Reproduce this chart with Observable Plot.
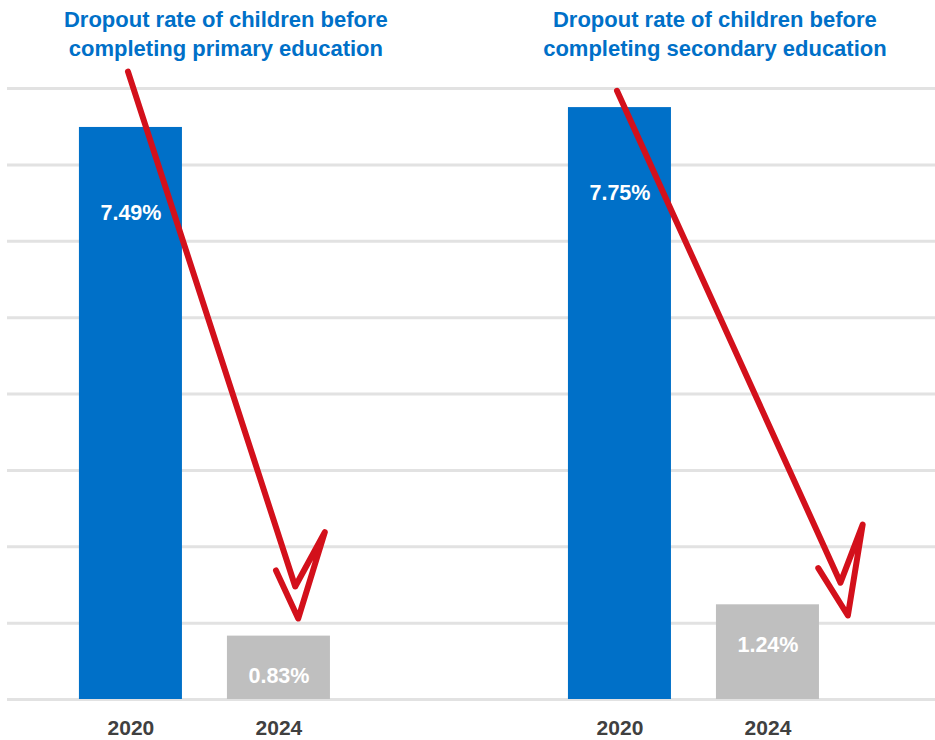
<!DOCTYPE html>
<html><head><meta charset="utf-8">
<script src="https://cdn.jsdelivr.net/npm/d3@7"></script>
<script src="https://cdn.jsdelivr.net/npm/@observablehq/plot@0.6"></script>
<style>
html,body{margin:0;padding:0;background:#fff;overflow:hidden}
body{width:935px;height:740px;font-family:Arial,"Liberation Sans",sans-serif}
#titles{position:relative;height:63px;width:935px}
.t{position:absolute;top:5px;transform:translateX(-50%);white-space:nowrap;text-align:center;color:#0070C8;font-weight:bold;font-size:22px;line-height:29px}
#chart svg{display:block}
</style></head><body>
<div id="titles"></div><div id="chart"></div>
<script>
// ---- data ----
const panels = ["primary", "secondary"];
const titleLines = [
  ["Dropout rate of children before", "completing primary education"],
  ["Dropout rate of children before", "completing secondary education"]
];
const years = ["2020", "2024"];
const primaryRates = [7.49, 0.83];
const secondaryRates = [7.75, 1.24];
const gridValues = [0, 1, 2, 3, 4, 5, 6, 7, 8];
// hand-drawn arrows, in data units (x: steps from the panel's 2020 bar, y: %)
const primaryArrowX = [-0.02, 1.11, 1.31, 1.13, 0.98];
const primaryArrowY = [8.22, 1.48, 2.19, 1.06, 1.69];
const secondaryArrowX = [-0.02, 1.49, 1.64, 1.54, 1.34];
const secondaryArrowY = [7.97, 1.53, 2.29, 1.10, 1.72];

// ---- layout constants ----
const panelGap = 3.304;     // distance between panels, in year steps
const halfBar = 0.348;      // half bar width, in year steps
const titleOffset = 0.645;  // title centre relative to 2020 bar
const blue = "#0070C8", gray = "#BFBFBF", red = "#D3101B";

const rates = [primaryRates, secondaryRates];
const bars = [];
panels.forEach((p, pi) => years.forEach((y, yi) => bars.push({
  panel: p, year: y, value: rates[pi][yi], pos: pi * panelGap + yi
})));
const arrowXs = [primaryArrowX, secondaryArrowX], arrowYs = [primaryArrowY, secondaryArrowY];
const arrows = [];
panels.forEach((p, pi) => arrowXs[pi].forEach((x, i) => arrows.push({
  panel: p, x: pi * panelGap + x, y: arrowYs[pi][i]
})));

const font = "Arial, 'Liberation Sans', sans-serif";
const chart = Plot.plot({
  width: 935, height: 677,
  marginTop: 25, marginBottom: 41, marginLeft: 7, marginRight: 0,
  style: {fontFamily: font, background: "#fff"},
  x: {domain: [-0.834, 5.436], axis: null},
  y: {domain: [0, 8], axis: null},
  marks: [
    Plot.ruleY(gridValues, {stroke: "#E2E2E2", strokeWidth: 3}),
    Plot.rectY(bars, {x1: d => d.pos - halfBar, x2: d => d.pos + halfBar, y: "value",
      fill: d => d.year === "2020" ? blue : gray}),
    Plot.text(bars.filter(d => d.year === "2020"), {x: "pos", y: "value", dy: 86,
      text: d => d.value.toFixed(2) + "%", fill: "#fff", fontSize: 21.5, fontWeight: "bold"}),
    Plot.text(bars.filter(d => d.year === "2024"), {x: "pos", y: "value", dy: 40,
      text: d => d.value.toFixed(2) + "%", fill: "#fff", fontSize: 21.5, fontWeight: "bold"}),
    Plot.text(bars, {x: "pos", y: 0, dy: 29, text: "year", fill: "#404040",
      fontSize: 21, fontWeight: "bold"}),
    Plot.line(arrows, {x: "x", y: "y", z: "panel", stroke: red, strokeWidth: 6,
      strokeLinejoin: "round", strokeLinecap: "round"})
  ]
});
document.getElementById("chart").appendChild(chart);

const xs = chart.scale("x");
const titles = document.getElementById("titles");
panels.forEach((p, pi) => {
  const div = document.createElement("div");
  div.className = "t";
  div.style.left = xs.apply(pi * panelGap + titleOffset) + "px";
  div.innerHTML = titleLines[pi].join("<br>");
  titles.appendChild(div);
});
</script>
</body></html>
